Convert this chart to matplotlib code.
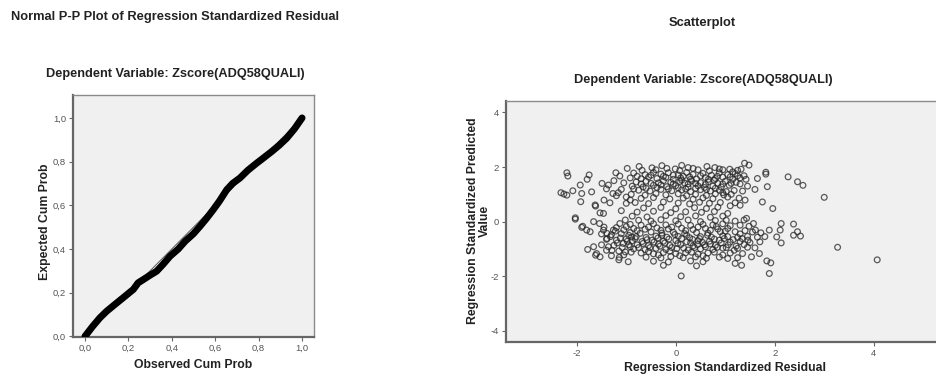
import matplotlib
matplotlib.use("Agg")
import matplotlib.pyplot as plt

plt.rcParams['font.family'] = ['Liberation Sans', 'DejaVu Sans']
plt.rcParams['axes.unicode_minus'] = False

# P-P plot: observed vs expected cumulative probability
pp_observed = [0.0, 0.035, 0.069, 0.10, 0.138, 0.18, 0.223, 0.245, 0.269, 0.30, 0.33,
               0.36, 0.392, 0.43, 0.461, 0.50, 0.53, 0.56, 0.591, 0.62, 0.653, 0.68,
               0.714, 0.75, 0.791, 0.82, 0.86, 0.895, 0.929, 0.965, 1.0]
pp_expected = [0.0, 0.045, 0.085, 0.115, 0.146, 0.18, 0.215, 0.245, 0.26, 0.28, 0.298,
               0.33, 0.367, 0.40, 0.435, 0.47, 0.504, 0.54, 0.58, 0.62, 0.671, 0.70,
               0.725, 0.76, 0.793, 0.815, 0.846, 0.875, 0.907, 0.95, 1.0]
pp_ticks = [0.0, 0.2, 0.4, 0.6, 0.8, 1.0]
pp_ticklabels = ["0,0", "0,2", "0,4", "0,6", "0,8", "1,0"]

# scatter: standardized residual vs standardized predicted value
upper_band = [
    (-0.74, 2.02), (-0.48, 1.97), (-0.28, 2.05), (-0.01, 1.93), (0.12, 2.06), (0.35, 1.95),
    (0.63, 2.02), (0.79, 1.98), (0.95, 1.9), (1.09, 1.92), (1.25, 1.88), (1.39, 2.14),
    (1.48, 2.07), (-0.98, 1.95), (-1.21, 1.79), (-1.13, 1.67),
    (-0.85, 1.78), (-0.62, 1.72), (-0.45, 1.8), (-0.30, 1.74), (-0.15, 1.79), (0.05, 1.71),
    (0.22, 1.8), (0.35, 1.73), (0.55, 1.77), (0.72, 1.7), (0.88, 1.79), (1.05, 1.72),
    (1.2, 1.76), (1.38, 1.68),
    (-0.92, 1.6), (-0.70, 1.57), (-0.55, 1.63), (-0.38, 1.58), (-0.20, 1.62), (-0.05, 1.55),
    (0.10, 1.6), (0.28, 1.64), (0.42, 1.56), (0.60, 1.61), (0.80, 1.58), (0.95, 1.63),
    (1.15, 1.55), (1.30, 1.6), (1.65, 1.58),
    (-0.80, 1.45), (-0.60, 1.48), (-0.35, 1.42), (-0.25, 1.5), (-0.10, 1.44), (0.08, 1.47),
    (0.18, 1.41), (0.32, 1.49), (0.50, 1.43), (0.66, 1.46), (0.85, 1.4), (1.0, 1.48),
    (1.22, 1.44), (1.85, 1.28), (-1.25, 1.5), (-1.05, 1.42), (-1.49, 1.40), (-1.36, 1.34),
    (-0.88, 1.3), (-0.66, 1.27), (-0.45, 1.33), (-0.18, 1.28), (0.0, 1.32), (0.25, 1.26),
    (0.45, 1.31), (0.58, 1.25), (0.75, 1.3), (0.92, 1.27), (1.08, 1.33), (1.45, 1.3),
    (-0.75, 1.15), (-0.52, 1.12), (-0.30, 1.18), (-0.08, 1.13), (0.12, 1.16), (0.30, 1.1),
    (0.50, 1.17), (0.70, 1.12), (0.88, 1.15), (1.02, 1.1), (1.18, 1.14), (1.35, 1.12),
    (1.60, 1.18), (-1.40, 1.2), (-1.10, 1.18), (-1.27, 1.03), (-1.16, 1.06),
    (-0.90, 1.0), (-0.62, 0.97), (-0.40, 1.03), (-0.20, 0.98), (0.05, 1.02), (0.22, 0.95),
    (0.40, 1.0), (0.62, 0.96), (0.80, 1.02), (0.97, 0.98), (-1.2, 0.95), (-1.0, 0.9),
    (-0.70, 0.85), (-0.45, 0.88), (-0.12, 0.83), (0.15, 0.86), (0.35, 0.82), (0.55, 0.87),
    (0.75, 0.84), (1.05, 0.9), (1.28, 0.86), (1.40, 0.79), (1.20, 0.69),
    (-0.68, 1.88), (-0.4, 1.9), (-0.18, 1.95), (0.08, 1.87), (0.25, 1.98), (0.45, 1.9),
    (0.68, 1.86), (0.88, 1.93), (1.15, 1.82), (1.32, 1.92),
    (-0.78, 1.66), (-0.5, 1.7), (-0.25, 1.66), (-0.05, 1.7), (0.15, 1.66), (0.3, 1.55),
    (0.5, 1.68), (0.66, 1.55), (0.84, 1.66), (1.1, 1.64), (1.25, 1.68), (1.42, 1.55),
    (-0.7, 1.38), (-0.5, 1.4), (-0.3, 1.35), (-0.05, 1.38), (0.12, 1.52), (0.25, 1.38),
    (0.4, 1.4), (0.6, 1.36), (0.78, 1.52), (0.95, 1.38), (1.12, 1.4), (1.3, 1.38),
    (-0.85, 1.2), (-0.6, 1.22), (-0.38, 1.25), (-0.15, 1.2), (0.05, 1.24), (0.2, 1.2),
    (0.4, 1.22), (0.62, 1.18), (0.8, 1.22), (0.95, 1.06), (1.12, 1.0),
]

middle_band = [
    (-1.00, 0.67), (-0.92, 0.79), (-1.45, 0.79), (-1.33, 0.69), (-1.63, 0.61), (-1.62, 0.57),
    (-0.82, 0.7), (-0.55, 0.66), (-0.25, 0.72), (0.05, 0.68), (0.28, 0.65), (0.48, 0.71),
    (0.68, 0.67), (0.90, 0.7), (1.75, 0.72),
    (-0.65, 0.5), (-0.30, 0.52), (0.0, 0.47), (0.38, 0.51), (0.62, 0.48), (0.85, 0.53),
    (1.1, 0.58), (1.3, 0.6), (1.96, 0.48),
    (-0.78, 0.35), (-0.45, 0.38), (-0.10, 0.33), (0.20, 0.36), (0.52, 0.34), (0.78, 0.37),
    (1.05, 0.3), (-1.1, 0.4), (-1.53, 0.32), (-1.46, 0.30),
    (-0.88, 0.2), (-0.58, 0.17), (-0.20, 0.22), (0.10, 0.18), (0.40, 0.21), (0.70, 0.16),
    (0.95, 0.2), (1.43, 0.12),
    (-2.03, 0.09), (-1.66, 0.0), (-1.54, -0.07), (-1.13, -0.07), (-1.02, 0.06), (-2.03, 0.14),
    (-0.75, 0.05), (-0.50, 0.02), (-0.30, 0.07), (0.0, 0.03), (0.25, 0.06), (0.50, 0.0),
    (0.80, 0.04), (1.02, 0.05), (1.2, 0.02), (1.38, 0.06), (1.57, -0.07), (2.13, -0.07),
    (2.38, -0.09),
]

lower_band = [
    (-0.92, -0.1), (-0.70, -0.13), (-0.45, -0.08), (-0.20, -0.12), (0.05, -0.09), (0.30, -0.14),
    (0.55, -0.1), (0.75, -0.12), (0.95, -0.08), (1.1, -0.15), (1.3, -0.13), (1.48, -0.17),
    (-1.90, -0.21), (-1.80, -0.31), (-1.73, -0.37), (-1.88, -0.17), (-1.45, -0.2), (-1.2, -0.22),
    (-1.0, -0.18),
    (-0.85, -0.25), (-0.62, -0.28), (-0.38, -0.23), (-0.15, -0.27), (0.12, -0.24), (0.35, -0.29),
    (0.60, -0.25), (0.85, -0.27),
    (-1.26, -0.31), (-1.46, -0.31), (-1.39, -0.43), (-0.89, -0.56), (1.0, -0.35), (1.2, -0.37),
    (1.4, -0.33), (1.55, -0.38), (1.61, -0.31), (1.89, -0.31), (2.11, -0.31), (1.72, -0.41),
    (2.46, -0.37), (2.52, -0.53), (2.38, -0.5), (2.04, -0.56),
    (-0.92, -0.4), (-0.72, -0.43), (-0.50, -0.38), (-0.28, -0.42), (-0.05, -0.39), (0.18, -0.44),
    (0.42, -0.4), (0.65, -0.42), (0.90, -0.37),
    (-1.5, -0.45), (-1.3, -0.48), (-1.1, -0.44), (-0.95, -0.5),
    (-0.80, -0.55), (-0.60, -0.58), (-0.40, -0.53), (-0.18, -0.57), (0.05, -0.54), (0.28, -0.59),
    (0.50, -0.55), (0.72, -0.57), (0.95, -0.52), (1.05, -0.55), (1.25, -0.58), (1.45, -0.54),
    (1.65, -0.57), (1.80, -0.55),
    (-1.39, -0.62), (-1.4, -0.65), (-1.2, -0.68), (-1.0, -0.63),
    (-0.88, -0.7), (-0.68, -0.73), (-0.48, -0.68), (-0.25, -0.72), (0.0, -0.69), (0.22, -0.74),
    (0.45, -0.7), (0.68, -0.72), (0.88, -0.68), (1.1, -0.75), (1.3, -0.73), (1.5, -0.77),
    (1.7, -0.74), (2.13, -0.78),
    (-1.06, -0.80), (-0.92, -0.92), (-1.36, -0.92), (-1.66, -0.92), (-1.78, -1.02), (-1.5, -0.85),
    (-1.25, -0.87),
    (-0.78, -0.85), (-0.55, -0.88), (-0.35, -0.83), (-0.12, -0.87), (0.10, -0.84), (0.35, -0.89),
    (0.58, -0.85), (0.80, -0.87),
    (-0.85, -1.0), (-0.62, -1.03), (-0.40, -0.98), (-0.20, -1.02), (0.02, -0.99), (0.25, -1.04),
    (0.50, -1.0), (0.75, -1.02), (0.95, -0.97), (1.02, -0.95), (1.25, -0.98), (1.45, -0.94),
    (1.6, -0.96),
    (-1.60, -1.17), (-1.53, -1.29), (-1.62, -1.23), (-1.29, -1.05), (-1.02, -1.11), (-1.4, -1.05),
    (-1.15, -1.08), (-1.14, -1.31), (-0.96, -1.47), (-1.3, -1.25), (-1.05, -1.22), (-1.15, -1.4),
    (-0.70, -1.15), (-0.45, -1.18), (-0.25, -1.13), (0.0, -1.17), (0.20, -1.14), (0.45, -1.19),
    (0.65, -1.15), (1.1, -1.15), (1.35, -1.17), (1.69, -1.17),
    (-0.60, -1.3), (-0.30, -1.33), (-0.10, -1.28), (0.15, -1.32), (0.40, -1.29), (0.62, -1.34),
    (0.88, -1.3), (1.05, -1.35), (1.25, -1.32), (1.53, -1.29),
    (-0.45, -1.45), (-0.15, -1.48), (0.30, -1.44), (0.55, -1.47), (1.84, -1.44), (1.92, -1.51),
    (1.33, -1.60), (1.20, -1.53),
    (-0.25, -1.6), (0.42, -1.62), (0.11, -1.99), (1.89, -1.90),
    (-1.32, -0.55), (-1.18, -0.78), (-1.08, -0.95), (-0.98, -0.72), (-0.95, -0.85), (-1.12, -0.6),
    (-0.82, -0.62), (-0.75, -0.95), (-0.66, -0.8), (-0.58, -0.66), (-0.52, -0.95), (-0.44, -0.75),
    (-0.36, -0.6), (-0.32, -0.9), (-0.28, -0.5), (-0.22, -0.78), (-0.14, -0.64), (-0.08, -0.95),
    (-0.02, -0.47), (0.04, -0.8), (0.12, -0.62), (0.16, -0.97), (0.22, -0.5), (0.3, -0.78),
    (0.34, -0.65), (0.38, -0.95), (0.44, -0.84), (0.48, -0.62), (0.54, -0.76), (0.6, -0.92),
    (0.64, -0.5), (0.7, -0.82), (0.78, -0.64), (0.84, -0.94), (0.92, -0.78), (0.98, -0.62),
    (1.06, -0.85), (1.16, -0.66), (1.22, -0.9), (1.34, -0.62), (1.38, -0.84), (1.46, -0.68),
    (-1.22, -0.35), (-1.05, -0.3), (-0.78, -0.33), (-0.55, -0.2), (-0.3, -0.32), (-0.08, -0.2),
    (0.2, -0.33), (0.45, -0.2), (0.7, -0.32), (0.82, -0.18), (1.05, -0.25), (1.3, -0.45),
    (-0.9, -1.12), (-0.55, -1.1), (-0.35, -1.22), (-0.12, -1.08), (0.08, -1.25), (0.32, -1.12),
    (0.55, -1.25), (0.78, -1.12), (0.95, -1.22), (1.18, -1.05),
]

left_tail = [
    (-2.20, 1.79), (-2.18, 1.67), (-1.75, 1.71), (-1.79, 1.55), (-2.32, 1.06), (-2.26, 1.01),
    (-2.20, 0.97), (-2.08, 1.13), (-1.93, 1.34), (-1.90, 1.03), (-1.92, 0.73), (-1.70, 1.09),
]

right_tail = [
    (2.57, 1.33), (3.0, 0.89), (3.27, -0.94), (4.07, -1.40), (1.82, 1.81), (1.82, 1.74),
    (2.27, 1.64), (2.46, 1.46),
]

scatter_ticks_x = [-2, 0, 2, 4]
scatter_ticks_y = [-4, -2, 0, 2, 4]

W, H = 936, 376
fig = plt.figure(figsize=(W / 100, H / 100), dpi=100)
fig.patch.set_facecolor("white")


def px_axes(left, top, right, bottom):
    return fig.add_axes([left / W, 1 - bottom / H, (right - left) / W, (bottom - top) / H])


def spss_frame(ax):
    ax.set_facecolor("#f0f0f0")
    for side in ("left", "bottom"):
        ax.spines[side].set_color("#666666")
        ax.spines[side].set_linewidth(1.6)
    for side in ("top", "right"):
        ax.spines[side].set_color("#8a8a8a")
        ax.spines[side].set_linewidth(1.0)
    ax.tick_params(direction="out", length=3, width=0.8, color="#666666",
                   labelsize=6.8, labelcolor="#555555", pad=2)


label_kw = dict(fontsize=8.8, fontweight="bold", color="#222222")

# left panel
ax1 = px_axes(73, 95, 314, 337)
spss_frame(ax1)
ax1.plot([0, 1], [0, 1], color="#555555", lw=0.7, zorder=2)
ax1.plot(pp_observed, pp_expected, color="black", lw=5.0,
         solid_capstyle="round", solid_joinstyle="round", zorder=3)
ax1.set_xlim(-0.055, 1.055)
ax1.set_ylim(-0.003, 1.105)
ax1.set_xticks(pp_ticks)
ax1.set_xticklabels(pp_ticklabels)
ax1.set_yticks(pp_ticks)
ax1.set_yticklabels(pp_ticklabels)

fig.text(11 / W, 1 - 17 / H, "Normal P-P Plot of Regression Standardized Residual",
         ha="left", va="center", fontsize=9.3, fontweight="bold", color="#222222")
fig.text(175 / W, 1 - 74 / H, "Dependent Variable: Zscore(ADQ58QUALI)",
         ha="center", va="center", fontsize=9.2, fontweight="bold", color="#222222")
fig.text(193 / W, 1 - 365 / H, "Observed Cum Prob", ha="center", va="center", **label_kw)
fig.text(45 / W, 1 - 222 / H, "Expected Cum Prob", ha="center", va="center",
         rotation=90, **label_kw)

# right panel
ax2 = px_axes(506, 100.7, 945, 342)
spss_frame(ax2)
for group in (upper_band, middle_band, lower_band, left_tail, right_tail):
    xs = [p[0] for p in group]
    ys = [p[1] for p in group]
    ax2.scatter(xs, ys, s=17, facecolors="none", edgecolors="#262626",
                linewidths=0.9, alpha=0.75, zorder=3)
ax2.set_xlim(-3.43, 5.44)
ax2.set_ylim(-4.41, 4.43)
ax2.set_xticks(scatter_ticks_x)
ax2.set_yticks(scatter_ticks_y)

fig.text(702 / W, 1 - 23 / H, "Scatterplot", ha="center", va="center",
         fontsize=9.3, fontweight="bold", color="#222222")
fig.text(703 / W, 1 - 80 / H, "Dependent Variable: Zscore(ADQ58QUALI)",
         ha="center", va="center", fontsize=9.2, fontweight="bold", color="#222222")
fig.text(725 / W, 1 - 368 / H, "Regression Standardized Residual",
         ha="center", va="center", **label_kw)
fig.text(479 / W, 1 - 221 / H, "Regression Standardized Predicted\nValue",
         ha="center", va="center", rotation=90, linespacing=1.0, **label_kw)

fig.savefig("out.png", dpi=100)
